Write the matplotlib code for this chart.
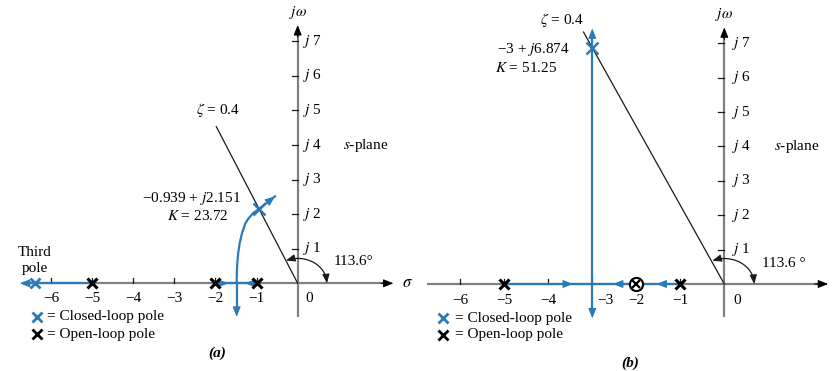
import numpy as np
import matplotlib
matplotlib.use("Agg")
import matplotlib.pyplot as plt

plt.rcParams['font.family'] = ['Liberation Serif', 'DejaVu Serif']
plt.rcParams['mathtext.fontset'] = 'stix'
plt.rcParams['font.size'] = 11

BLUE = '#2a7ab8'
AXIS_GRAY = '#808080'
INK = '#1a1a1a'

# ---- shared values ----
real_ticks = [-6, -5, -4, -3, -2, -1]
imag_ticks = [1, 2, 3, 4, 5, 6, 7]
zeta = 0.4
zeta_angle_deg = 113.6

# ---- panel (a): poles at -1, -2, -5 ----
open_poles_a = [-1, -2, -5]
breakaway_a = -1.485
locus_sigma_a = [-1.485, -1.481, -1.469, -1.448, -1.412, -1.355, -1.274,
                 -1.201, -1.08, -0.939, -0.755, -0.552]
locus_omega_a = [0.0, 0.29, 0.58, 0.87, 1.16, 1.45, 1.73,
                 1.87, 2.035, 2.151, 2.325, 2.515]
closed_pole_a = (-0.939, 2.151)
gain_a = 23.72
third_pole_a = -6.4
third_branch_end_a = -6.76
lower_branch_end_a = -0.97

# ---- panel (b): poles at -1, -5, pole/zero cancelled at -2 ----
open_poles_b = [-1, -5]
cancelled_b = -2
breakaway_b = -3
closed_pole_b = (-3, 6.874)
gain_b = 51.25
vertical_branch_b = (-1.0, 7.43)


def fmt_num(v):
    s = f"{v:g}"
    return s.replace('-', '\u2212')


def head(ax, tail, tip, color, scale=1.0, z=5):
    ax.annotate('', xy=tip, xytext=tail,
                arrowprops=dict(arrowstyle=f'-|>,head_length={0.55*scale},head_width={0.22*scale}',
                                color=color, lw=0.8, shrinkA=0, shrinkB=0),
                zorder=z)


def draw_axes(ax, x_left, x_tip, y_bottom, y_tip, tick_y, label_shift, zero_pos,
              jlabel_x, jomega_y, rx, ry, angle_label, angle_pos, zeta_end_sigma,
              splane_pos, zeta_label_pos, zeta_ha, sigma_label):
    # real and imaginary axes
    ax.plot([x_left, x_tip - 0.1], [0, 0], color=AXIS_GRAY, lw=1.6, zorder=1,
            solid_capstyle='butt')
    head(ax, (x_tip - 0.3, 0), (x_tip, 0), 'black')
    ax.plot([0, 0], [y_bottom, y_tip - 0.1], color=AXIS_GRAY, lw=1.6, zorder=1,
            solid_capstyle='butt')
    head(ax, (0, y_tip - 0.35), (0, y_tip), 'black')

    # ticks
    for t in real_ticks:
        ax.plot([t, t], [0, 0.14], color=INK, lw=0.9, zorder=1)
        ax.text(t + label_shift.get(t, 0.0), tick_y, fmt_num(t),
                ha='center', va='center')
    ax.text(zero_pos, tick_y, '0', ha='center', va='center')
    for t in imag_ticks:
        ax.plot([-0.15, 0], [t, t], color=INK, lw=0.9, zorder=1)
        ax.text(jlabel_x, t, f'$j$ {t}', ha='left', va='center')
    ax.text(0, jomega_y, r'$j\omega$', ha='center', va='center')
    if sigma_label is not None:
        ax.text(sigma_label[0], sigma_label[1], r'$\sigma$', ha='center', va='center',
                fontsize=12)

    # constant damping ratio line
    theta = np.deg2rad(zeta_angle_deg)
    ax.plot([0, zeta_end_sigma], [0, zeta_end_sigma * np.tan(theta)],
            color=INK, lw=0.9, zorder=2)
    ax.text(zeta_label_pos[0], zeta_label_pos[1], rf'$\zeta$ = {zeta}',
            ha=zeta_ha, va='center')

    # angle marker
    ang = np.deg2rad(np.linspace(6, zeta_angle_deg - 8, 60))
    ax.plot(rx * np.cos(ang), ry * np.sin(ang), color=INK, lw=0.9, zorder=2)
    a0, a1 = np.deg2rad(zeta_angle_deg - 10), theta
    head(ax, (rx * np.cos(a0), ry * np.sin(a0)), (rx * np.cos(a1), ry * np.sin(a1)), INK, 0.9)
    b0 = np.deg2rad(10)
    head(ax, (rx * np.cos(b0), ry * np.sin(b0)), (rx, 0), INK, 0.9)
    ax.text(angle_pos[0], angle_pos[1], angle_label, ha='left', va='center')

    ax.text(splane_pos[0], splane_pos[1], '$s$-plane', ha='left', va='center')


def draw_key(ax, x, y1, y2, dx):
    ax.plot([x], [y1], marker='x', color=BLUE, ms=6.5, mew=2.0, ls='none')
    ax.text(x + dx, y1, '= Closed-loop pole', ha='left', va='center')
    ax.plot([x], [y2], marker='x', color='black', ms=6.5, mew=2.0, ls='none')
    ax.text(x + dx, y2, '= Open-loop pole', ha='left', va='center')


fig = plt.figure(figsize=(8.34, 3.71), dpi=100)
axa = fig.add_axes([0, 0, 420 / 834, 1])
axb = fig.add_axes([420 / 834, 0, 414 / 834, 1])
for ax in (axa, axb):
    ax.set_axis_off()

# ================= panel (a) =================
axa.set_xlim(-7.243, 2.976)
axa.set_ylim(-2.537, 8.195)
draw_axes(axa, x_left=-6.6, x_tip=2.33, y_bottom=-0.97, y_tip=7.47, tick_y=-0.43,
          label_shift={}, zero_pos=0.29, jlabel_x=0.13, jomega_y=7.83,
          rx=0.71, ry=0.72, angle_label='113.6\u00b0', angle_pos=(0.87, 0.63),
          zeta_end_sigma=-1.98, splane_pos=(1.11, 3.99), zeta_label_pos=(-1.93, 5.0),
          zeta_ha='center', sigma_label=(2.68, 0.0))

# third pole branch
axa.plot([open_poles_a[2], third_branch_end_a + 0.1], [0, 0], color=BLUE, lw=1.6, zorder=3)
head(axa, (third_branch_end_a + 0.3, 0), (third_branch_end_a, 0), BLUE)
# real-axis segment between -2 and -1
axa.plot([open_poles_a[1], open_poles_a[0]], [0, 0], color=BLUE, lw=1.6, zorder=3)
head(axa, (-1.9, 0), (-1.69, 0), BLUE)
head(axa, (-1.08, 0), (-1.28, 0), BLUE)
# complex branch and its lower half
axa.plot(locus_sigma_a, locus_omega_a, color=BLUE, lw=1.6, zorder=3)
head(axa, (locus_sigma_a[-2], locus_omega_a[-2]), (locus_sigma_a[-1], locus_omega_a[-1]), BLUE)
axa.plot([breakaway_a, breakaway_a], [0, lower_branch_end_a + 0.2], color=BLUE, lw=1.6, zorder=3)
head(axa, (breakaway_a, lower_branch_end_a + 0.3), (breakaway_a, lower_branch_end_a), BLUE)

# poles
axa.plot(open_poles_a, [0] * len(open_poles_a), marker='x', color='black',
         ms=6.5, mew=2.2, ls='none', zorder=6)
axa.plot([closed_pole_a[0]], [closed_pole_a[1]], marker='x', color=BLUE,
         ms=8, mew=1.8, ls='none', zorder=6)
axa.plot([third_pole_a], [0], marker='x', color=BLUE, ms=7, mew=2.0, ls='none', zorder=6)

axa.text(-3.80, 2.44, f'{fmt_num(closed_pole_a[0])} + $j${closed_pole_a[1]}',
         ha='left', va='center')
axa.text(-3.19, 1.95, f'$K$ = {gain_a}', ha='left', va='center')
axa.text(third_pole_a, 0.885, 'Third', ha='center', va='center')
axa.text(third_pole_a, 0.43, 'pole', ha='center', va='center')

draw_key(axa, -6.35, -0.97, -1.47, 0.24)
axa.text(-1.97, -2.02, '(a)', ha='center', va='center', fontweight='bold', fontstyle='italic')

# ================= panel (b) =================
axb.set_xlim(-6.916, 2.493)
axb.set_ylim(-2.529, 8.256)
draw_axes(axb, x_left=-6.76, x_tip=2.36, y_bottom=-0.95, y_tip=7.46, tick_y=-0.47,
          label_shift={-3: 0.29}, zero_pos=0.3, jlabel_x=0.17, jomega_y=7.82,
          rx=0.68, ry=0.74, angle_label='113.6 \u00b0', angle_pos=(0.85, 0.60),
          zeta_end_sigma=-3.2, splane_pos=(1.13, 3.99), zeta_label_pos=(-3.2, 7.67),
          zeta_ha='right', sigma_label=None)

# real-axis locus between -5 and -1
axb.plot([open_poles_b[1], open_poles_b[0]], [0, 0], color=BLUE, lw=1.6, zorder=3)
head(axb, (-3.7, 0), (-3.44, 0), BLUE)
head(axb, (-2.3, 0), (-2.53, 0), BLUE)
head(axb, (-1.3, 0), (-1.54, 0), BLUE)
# vertical branch through the breakaway point
axb.plot([breakaway_b, breakaway_b], [vertical_branch_b[0] + 0.2, vertical_branch_b[1] - 0.2],
         color=BLUE, lw=1.6, zorder=3)
head(axb, (breakaway_b, vertical_branch_b[1] - 0.35), (breakaway_b, vertical_branch_b[1]), BLUE)
head(axb, (breakaway_b, vertical_branch_b[0] + 0.35), (breakaway_b, vertical_branch_b[0]), BLUE)

axb.plot(open_poles_b, [0] * len(open_poles_b), marker='x', color='black',
         ms=6.5, mew=2.2, ls='none', zorder=6)
axb.plot([cancelled_b], [0], marker='o', mfc='white', mec='black', ms=9.5, mew=1.5,
         ls='none', zorder=6)
axb.plot([cancelled_b], [0], marker='x', color='black', ms=5.5, mew=1.6, ls='none', zorder=7)
axb.plot([closed_pole_b[0]], [closed_pole_b[1]], marker='x', color=BLUE,
         ms=8, mew=1.8, ls='none', zorder=6)

axb.text(-5.16, 6.82, f'{fmt_num(closed_pole_b[0])} + $j${closed_pole_b[1]}',
         ha='left', va='center')
axb.text(-5.21, 6.27, f'$K$ = {gain_b}', ha='left', va='center')

draw_key(axb, -6.39, -0.99, -1.48, 0.27)
axb.text(-2.14, -2.29, '(b)', ha='center', va='center', fontweight='bold', fontstyle='italic')

fig.savefig('out.png', dpi=100)
